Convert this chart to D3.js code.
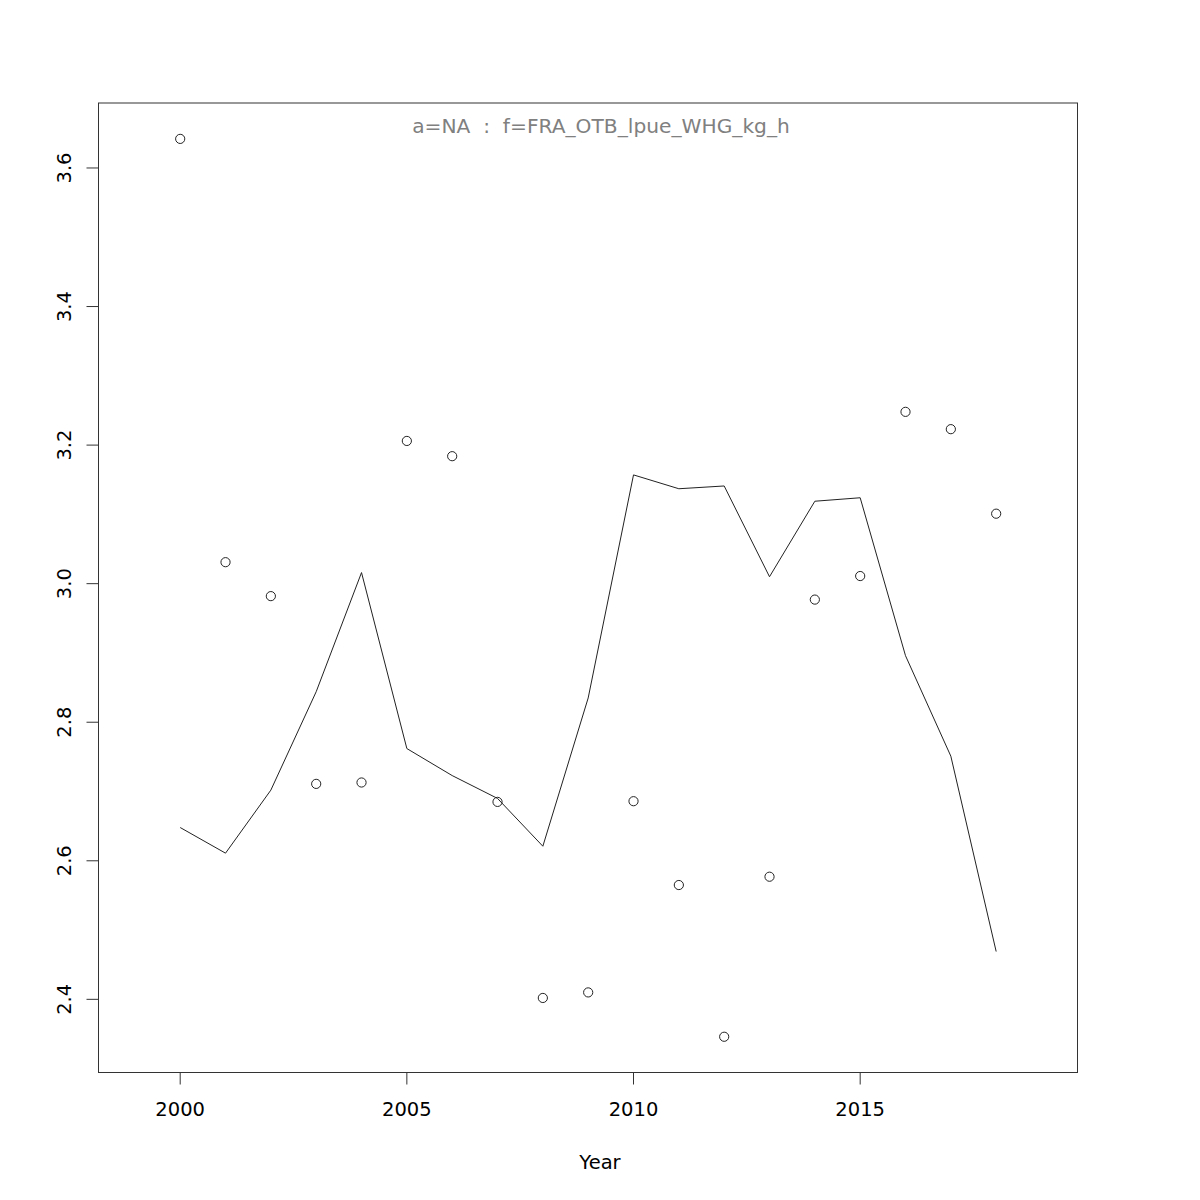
<!DOCTYPE html>
<html><head><meta charset="utf-8">
<script src="https://cdn.jsdelivr.net/npm/d3@7"></script>
<style>body{margin:0;background:#fff}svg{display:block}text{font-family:"DejaVu Sans",sans-serif}</style>
</head><body>
<svg id="chart" width="1200" height="1200"></svg>
<script>
const years = [2000,2001,2002,2003,2004,2005,2006,2007,2008,2009,2010,2011,2012,2013,2014,2015,2016,2017,2018];
const observed = [3.642,3.031,2.982,2.711,2.713,3.206,3.184,2.685,2.402,2.410,2.686,2.565,2.346,2.577,2.977,3.011,3.248,3.223,3.101];
const fitted = [2.648,2.611,2.702,2.844,3.016,2.762,2.723,2.690,2.621,2.835,3.157,3.137,3.141,3.010,3.119,3.124,2.896,2.751,2.469];
const xTicks = [2000,2005,2010,2015];
const yTicks = [2.4,2.6,2.8,3.0,3.2,3.4,3.6];
const title = "a=NA  :  f=FRA_OTB_lpue_WHG_kg_h";
const xLabel = "Year";

const L=98.5, R=1077.5, T=103, B=1072.5;
const svg = d3.select("#chart");
const x = d3.scaleLinear().domain([1998.198,2019.794]).range([L,R]);
const y = d3.scaleLinear().domain([2.2944,3.6938]).range([B,T]);

svg.append("rect").attr("x",L).attr("y",T).attr("width",R-L).attr("height",B-T)
  .attr("fill","none").attr("stroke","#333").attr("stroke-width",1);

// x axis
const gx = svg.append("g");
gx.append("line").attr("x1",x(xTicks[0])).attr("x2",x(xTicks[xTicks.length-1])).attr("y1",B).attr("y2",B).attr("stroke","#333");
gx.selectAll(".t").data(xTicks).join("line").attr("x1",d=>x(d)).attr("x2",d=>x(d)).attr("y1",B).attr("y2",B+12).attr("stroke","#333");
gx.selectAll("text").data(xTicks).join("text").attr("x",d=>x(d)).attr("y",1116).attr("text-anchor","middle")
  .attr("font-size",19.5).text(d=>d);

// y axis
const gy = svg.append("g");
gy.append("line").attr("x1",L).attr("x2",L).attr("y1",y(yTicks[0])).attr("y2",y(yTicks[yTicks.length-1])).attr("stroke","#333");
gy.selectAll(".t").data(yTicks).join("line").attr("x1",L-12).attr("x2",L).attr("y1",d=>y(d)).attr("y2",d=>y(d)).attr("stroke","#333");
gy.selectAll("text").data(yTicks).join("text")
  .attr("transform",d=>`translate(70.5,${y(d)}) rotate(-90)`).attr("text-anchor","middle")
  .attr("font-size",19.5).text(d=>d.toFixed(1));

// fitted line
svg.append("path").datum(years.map((d,i)=>[d,fitted[i]]))
  .attr("d",d3.line().x(d=>x(d[0])).y(d=>y(d[1])))
  .attr("fill","none").attr("stroke","#222").attr("stroke-width",1);

// observed points
svg.selectAll(".pt").data(years.map((d,i)=>[d,observed[i]])).join("circle")
  .attr("cx",d=>x(d[0])).attr("cy",d=>y(d[1])).attr("r",4.6)
  .attr("fill","none").attr("stroke","#222").attr("stroke-width",1);

// title
svg.append("text").attr("x",601).attr("y",133).attr("text-anchor","middle").attr("font-size",20.2)
  .attr("fill","#808080").style("white-space","pre").text(title);

svg.append("text").attr("x",600).attr("y",1169).attr("text-anchor","middle").attr("font-size",19.5).text(xLabel);
</script>
</body></html>
